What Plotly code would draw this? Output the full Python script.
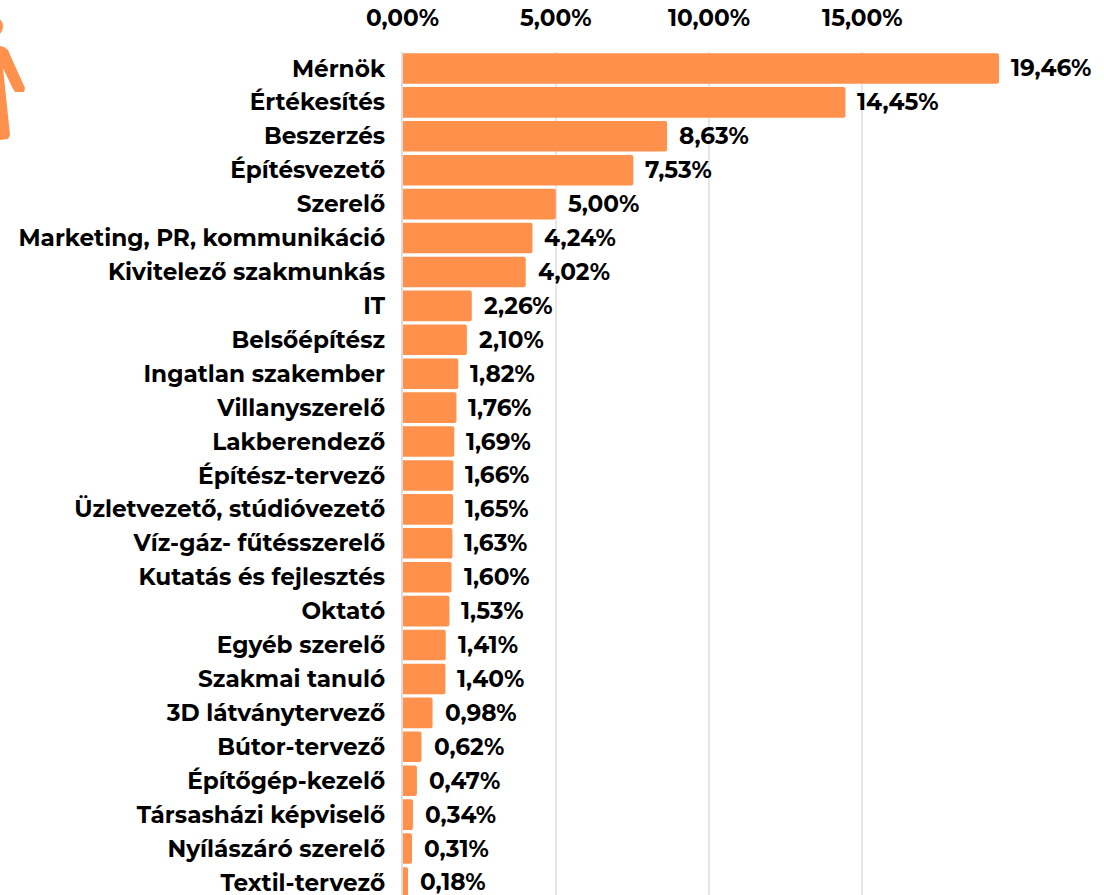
import plotly.graph_objects as go

categories = ["Mérnök","Értékesítés","Beszerzés","Építésvezető","Szerelő","Marketing, PR, kommunikáció","Kivitelező szakmunkás","IT","Belsőépítész","Ingatlan szakember","Villanyszerelő","Lakberendező","Építész-tervező","Üzletvezető, stúdióvezető","Víz-gáz- fűtésszerelő","Kutatás és fejlesztés","Oktató","Egyéb szerelő","Szakmai tanuló","3D látványtervező","Bútor-tervező","Építőgép-kezelő","Társasházi képviselő","Nyílászáró szerelő","Textil-tervező"]
values = [19.46,14.45,8.63,7.53,5.00,4.24,4.02,2.26,2.10,1.82,1.76,1.69,1.66,1.65,1.63,1.60,1.53,1.41,1.40,0.98,0.62,0.47,0.34,0.31,0.18]
tick_vals = [0,5,10,15]
tick_text = ["0,00%","5,00%","10,00%","15,00%"]
labels = [f"{v:.2f}%".replace(".",",") for v in values]
FONT = "Montserrat, Inter, 'Open Sans', sans-serif"
ORANGE = "#FF914D"
bold = dict(family=FONT, size=23.2, color="#000", weight="bold")
W, H = 1104, 895

fig = go.Figure(go.Bar(x=values, y=categories, orientation="h",
    marker=dict(color=ORANGE, line=dict(width=0), cornerradius=2), width=0.9))
for c, v, t in zip(categories, values, labels):
    fig.add_annotation(x=v, y=c, text=t, showarrow=False, xanchor="left", xshift=10, font=bold)
fig.update_layout(width=W, height=H, margin=dict(l=0,r=0,t=0,b=0,autoexpand=False), paper_bgcolor="white", plot_bgcolor="white",
    showlegend=False, font=dict(family=FONT, color="#000"))
fig.update_xaxes(side="top", range=[0,19.46], domain=[402.5/W,999/W], tickvals=tick_vals, ticktext=tick_text, automargin=False,
    tickfont=bold, showgrid=True, gridcolor="#E6E6E6", gridwidth=1.5, zeroline=False, ticks="", showline=False, ticklabelstandoff=20)
fig.update_yaxes(range=[24.37,-0.5], domain=[0,1-51.5/H], categoryorder="array", categoryarray=categories, automargin=False,
    tickfont=bold, showgrid=False, ticks="", showline=True, linecolor="#DDDDDD", linewidth=1.5, zeroline=False, ticklabelstandoff=11)
# decorative person icon, cropped by the left page edge
fig.add_shape(type="circle", xref="paper", yref="paper", x0=-14/W, x1=3/W, y0=1-36/H, y1=1-17/H, fillcolor=ORANGE, line_width=0)
icon = [(0,46),(4,47),(8,50),(11,57),(25,88),(24,92),(15,92),(12,87),(3,68),(10,135),(8,139),(0,140)]
path = "M " + " L ".join(f"{x/W:.5f} {1-y/H:.5f}" for x, y in icon) + " Z"
fig.add_shape(type="path", xref="paper", yref="paper", fillcolor=ORANGE, line_width=0, path=path)
fig.write_html("out.html", config=dict(displayModeBar=False),
               post_script="document.body.style.margin='0';document.body.style.overflow='hidden';")
